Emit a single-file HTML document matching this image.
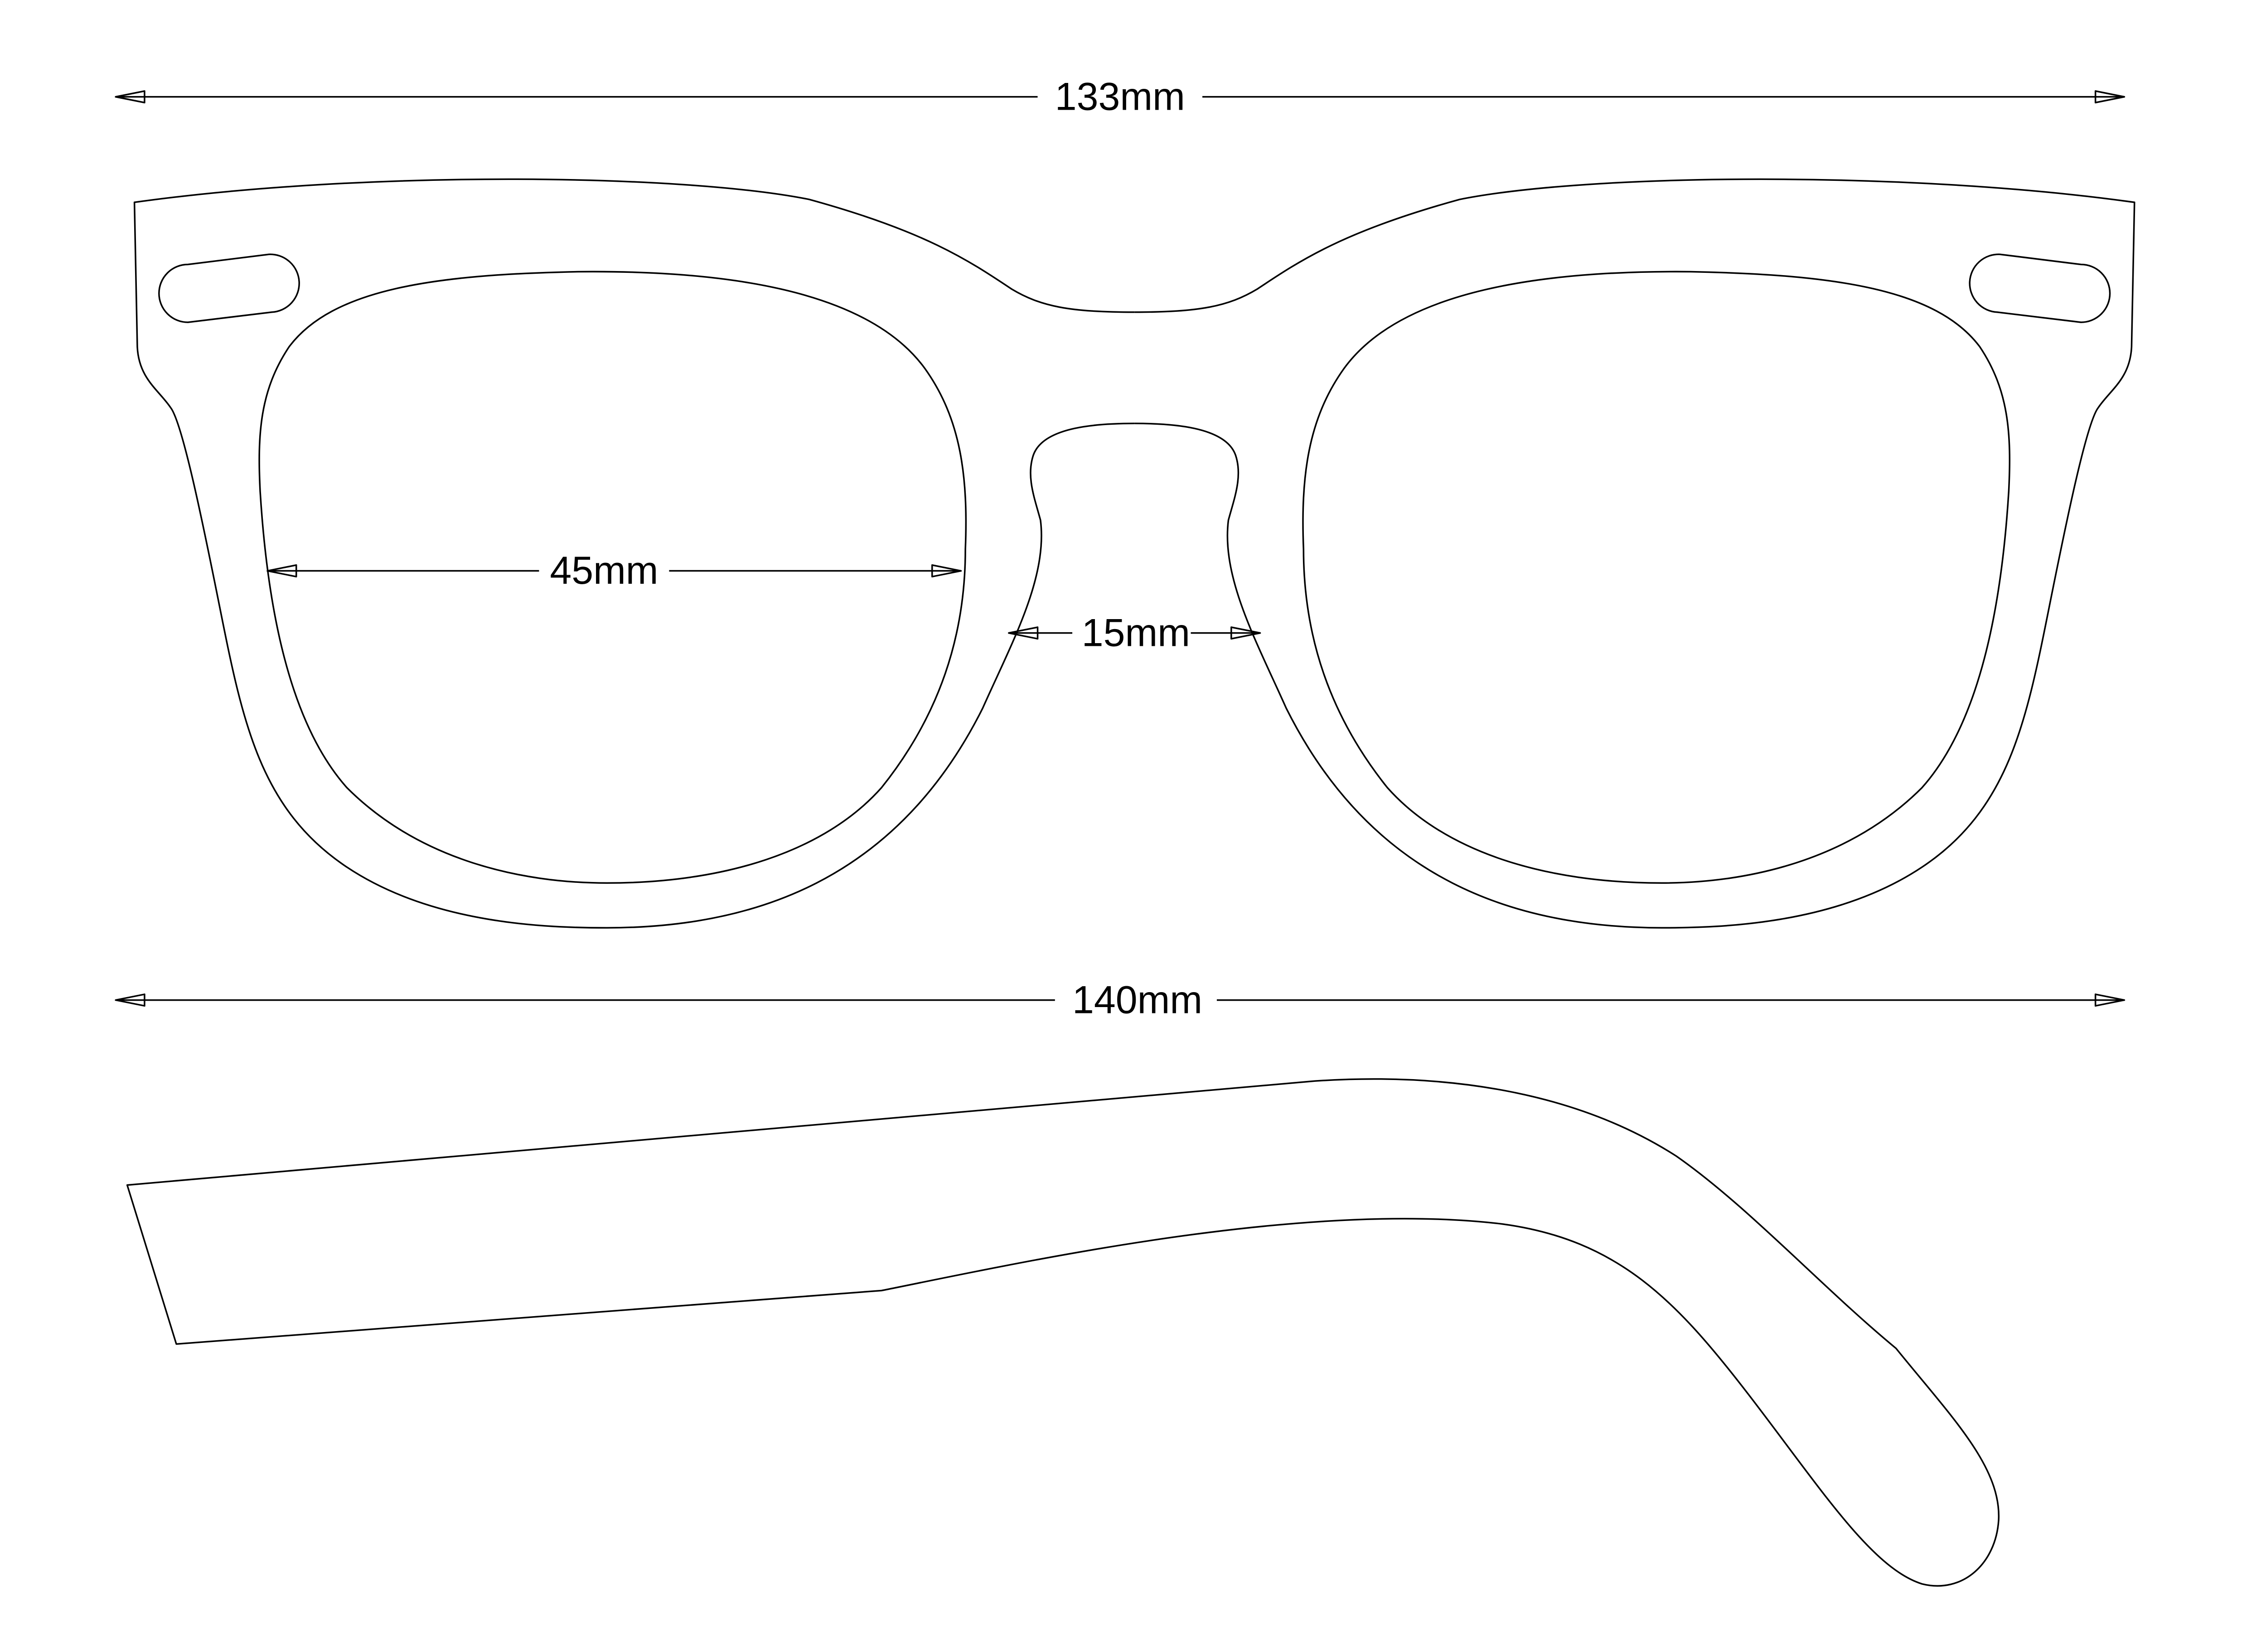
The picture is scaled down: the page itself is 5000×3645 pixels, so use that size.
<!DOCTYPE html>
<html><head><meta charset="utf-8"><style>
html,body{margin:0;padding:0;background:#fff;}
svg{display:block;}
text{font-family:"Liberation Sans",sans-serif;font-size:27px;fill:#000;}
</style></head><body>
<svg width="5000" height="3645" viewBox="0 0 1568 1143.1" xmlns="http://www.w3.org/2000/svg">
<rect width="1568" height="1143.1" fill="#fff"/>
<g fill="none" stroke="#000" stroke-width="1.1" stroke-linejoin="round">
  <line x1="80" y1="67" x2="718" y2="67"/>
  <line x1="832" y1="67" x2="1470" y2="67"/>
  <path d="M80,67 L100,63 L100,71 Z"/>
  <path d="M1470,67 L1450,63 L1450,71 Z"/>
  <line x1="80" y1="692" x2="730" y2="692"/>
  <line x1="842" y1="692" x2="1470" y2="692"/>
  <path d="M80,692 L100,688 L100,696 Z"/>
  <path d="M1470,692 L1450,688 L1450,696 Z"/>
  <line x1="185" y1="395" x2="373" y2="395"/>
  <line x1="463" y1="395" x2="665" y2="395"/>
  <path d="M185,395 L205,391 L205,399 Z"/>
  <path d="M665,395 L645,391 L645,399 Z"/>
  <line x1="698" y1="438" x2="742" y2="438"/>
  <line x1="824" y1="438" x2="872" y2="438"/>
  <path d="M698,438 L718,434 L718,442 Z"/>
  <path d="M872,438 L852,434 L852,442 Z"/>

  <g>
    <path d="M785,216 C740,216 720,212 700,200 C670,180 640,160 560,138 C470,120 250,118 93,140 L95,240 C96,262 110,270 118,282 C126,292 140,360 152,420 C168,500 180,560 240,600 C300,640 380,642 420,642 C520,642 620,610 680,490 C700,445 725,400 720,360 C716,345 710,330 715,315 C722,295 760,293 785,293"/>
    <path d="M400,188 C300,190 230,200 200,240 C180,270 178,300 180,340 C185,420 200,500 240,545 C290,595 360,611 420,611 C500,611 570,590 610,545 C650,495 668,440 668,380 C670,330 665,290 640,255 C600,200 500,187 400,188 Z"/>
    <path d="M130,183 L186,176 A20,20 0 0 1 188,216 L130,223 A20,20 0 0 1 130,183 Z"/>
  </g>
  <g transform="translate(1570,0) scale(-1,1)">
    <path d="M785,216 C740,216 720,212 700,200 C670,180 640,160 560,138 C470,120 250,118 93,140 L95,240 C96,262 110,270 118,282 C126,292 140,360 152,420 C168,500 180,560 240,600 C300,640 380,642 420,642 C520,642 620,610 680,490 C700,445 725,400 720,360 C716,345 710,330 715,315 C722,295 760,293 785,293"/>
    <path d="M400,188 C300,190 230,200 200,240 C180,270 178,300 180,340 C185,420 200,500 240,545 C290,595 360,611 420,611 C500,611 570,590 610,545 C650,495 668,440 668,380 C670,330 665,290 640,255 C600,200 500,187 400,188 Z"/>
    <path d="M130,183 L186,176 A20,20 0 0 1 188,216 L130,223 A20,20 0 0 1 130,183 Z"/>
  </g>

  <path d="M88,820 L910,748 C1000,742 1090,755 1160,800 C1210,835 1260,890 1312,933 C1350,980 1385,1015 1383,1052 C1381,1082 1358,1103 1330,1096 C1295,1085 1260,1030 1210,965 C1160,900 1120,858 1040,847 C900,830 700,875 610,893 L122,930 Z"/>
</g>
<text x="775" y="76" text-anchor="middle">133mm</text>
<text x="787" y="701" text-anchor="middle">140mm</text>
<text x="418" y="404" text-anchor="middle">45mm</text>
<text x="786" y="447" text-anchor="middle">15mm</text>
</svg>
</body></html>
